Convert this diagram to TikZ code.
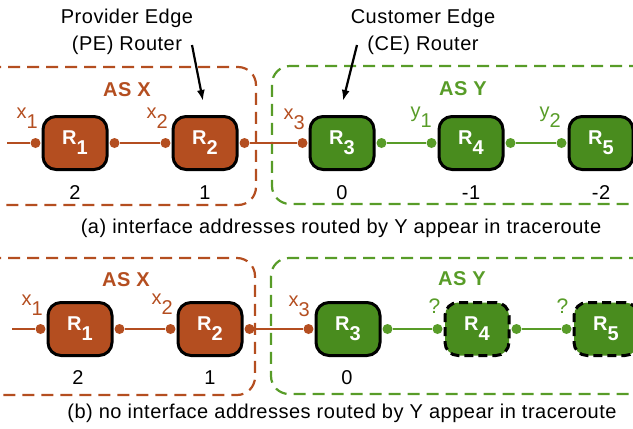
\documentclass[tikz,border=0pt]{standalone}
\usepackage{fontspec}
\setmainfont{Liberation Sans}[LetterSpace=2.5]
\usetikzlibrary{arrows.meta}
\definecolor{asx}{RGB}{180,78,32}
\definecolor{asyfill}{RGB}{73,140,30}
\definecolor{asy}{RGB}{88,156,40}
\newcommand\mysub[1]{\raisebox{-10pt}{#1}}
\begin{document}
\begin{tikzpicture}[x=1pt,y=-1pt,
  router/.style={draw=black, line width=3pt, rounded corners=13pt, minimum width=64pt, minimum height=53pt, inner sep=0pt, text=white, font=\fontsize{20}{20}\selectfont\bfseries},
  xr/.style={router, fill=asx},
  yr/.style={router, fill=asyfill},
  hidden/.style={dash pattern=on 9pt off 5pt},
  dotx/.style={circle, fill=asx, inner sep=0pt, minimum size=10pt},
  doty/.style={circle, fill=asy, inner sep=0pt, minimum size=10pt},
  linkx/.style={draw=asx, line width=2.3pt},
  linky/.style={draw=asy, line width=2.3pt},
  asbox/.style={line width=2.2pt, dash pattern=on 12pt off 7pt, rounded corners=18pt},
  aslabel/.style={font=\fontsize{20}{20}\selectfont\bfseries, anchor=base},
  txt/.style={font=\fontsize{20}{20}\selectfont, anchor=base},
  ifl/.style={font=\fontsize{20}{20}\selectfont, anchor=base west},
  qfl/.style={font=\fontsize{21}{21}\selectfont, anchor=base west},
  callout/.style={-{Latex[length=11pt,width=8pt]}, line width=2.2pt, draw=black},
]
\useasboundingbox (0,0) rectangle (633,429);
\clip (0,0) rectangle (633,429);

% ---------- top panel ----------
\draw[asbox, asx] (-30,67) -- (256,67) -- (256,205) -- (-30,205);
\draw[asbox, asy] (660,66) -- (272,66) -- (272,204) -- (660,204);
\node[aslabel, text=asx] (asxa) at (127,96) {AS X};
\node[aslabel, text=asy] (asya) at (463,95) {AS Y};

\node[txt] (pe1) at (127,23) {Provider Edge};
\node[txt] (pe2) at (127,50) {(PE) Router};
\node[txt] (ce1) at (423,23) {Customer Edge};
\node[txt] (ce2) at (423,50) {(CE) Router};
\coordinate (pet) at (192,45);
\coordinate (peh) at (203,101);
\coordinate (cet) at (357,45);
\coordinate (ceh) at (343,101);
\draw[callout] (pet) -- (peh);
\draw[callout] (cet) -- (ceh);

\node[xr] (a1) at (75,143) {R\mysub{1}};
\node[xr] (a2) at (205,143) {R\mysub{2}};
\node[yr] (a3) at (342,143) {R\mysub{3}};
\node[yr] (a4) at (471,143) {R\mysub{4}};
\node[yr] (a5) at (601,143) {R\mysub{5}};

\coordinate (a0) at (7,143);
\node[dotx] (a1l) at ([xshift=-6pt]a1.west) {};
\node[dotx] (a1r) at ([xshift=6pt]a1.east) {};
\node[dotx] (a2l) at ([xshift=-6pt]a2.west) {};
\node[dotx] (a2r) at ([xshift=6pt]a2.east) {};
\node[dotx] (a3l) at ([xshift=-6pt]a3.west) {};
\node[doty] (a3r) at ([xshift=6pt]a3.east) {};
\node[doty] (a4l) at ([xshift=-6pt]a4.west) {};
\node[doty] (a4r) at ([xshift=6pt]a4.east) {};
\node[doty] (a5l) at ([xshift=-6pt]a5.west) {};
\draw[linkx] (a0) -- (a1l);
\draw[linkx] (a1r) -- (a2l);
\draw[linkx] (a2r) -- (a3l);
\draw[linky] (a3r) -- (a4l);
\draw[linky] (a4r) -- (a5l);

\node[ifl, text=asx] (ax1) at (13,118) {x\mysub{1}};
\node[ifl, text=asx] (ax2) at (143,118) {x\mysub{2}};
\node[ifl, text=asx] (ax3) at (280,119) {x\mysub{3}};
\node[ifl, text=asy] (ay1) at (407,117) {y\mysub{1}};
\node[ifl, text=asy] (ay2) at (536,117) {y\mysub{2}};

\node[txt] (an1) at (75,199) {2};
\node[txt] (an2) at (205,199) {1};
\node[txt] (an3) at (342,199) {0};
\node[txt] (an4) at (471,199) {-1};
\node[txt] (an5) at (601,199) {-2};

\node[txt] (capa) at (341,233) {(a) interface addresses routed by Y appear in traceroute};

% ---------- bottom panel ----------
\draw[asbox, asx] (-30,258) -- (255,258) -- (255,395) -- (-30,395);
\draw[asbox, asy] (660,258) -- (271,258) -- (271,394) -- (660,394);
\node[aslabel, text=asx] (asxb) at (126,286) {AS X};
\node[aslabel, text=asy] (asyb) at (462,285) {AS Y};

\node[xr] (b1) at (80,329) {R\mysub{1}};
\node[xr] (b2) at (210,329) {R\mysub{2}};
\node[yr] (b3) at (348,329) {R\mysub{3}};
\node[yr, hidden] (b4) at (477,329) {R\mysub{4}};
\node[yr, hidden] (b5) at (606,329) {R\mysub{5}};

\coordinate (b0) at (12,329);
\node[dotx] (b1l) at ([xshift=-6pt]b1.west) {};
\node[dotx] (b1r) at ([xshift=6pt]b1.east) {};
\node[dotx] (b2l) at ([xshift=-6pt]b2.west) {};
\node[dotx] (b2r) at ([xshift=6pt]b2.east) {};
\node[dotx] (b3l) at ([xshift=-6pt]b3.west) {};
\node[doty] (b3r) at ([xshift=6pt]b3.east) {};
\node[doty] (b4l) at ([xshift=-6pt]b4.west) {};
\node[doty] (b4r) at ([xshift=6pt]b4.east) {};
\node[doty] (b5l) at ([xshift=-6pt]b5.west) {};
\draw[linkx] (b0) -- (b1l);
\draw[linkx] (b1r) -- (b2l);
\draw[linkx] (b2r) -- (b3l);
\draw[linky] (b3r) -- (b4l);
\draw[linky] (b4r) -- (b5l);

\node[ifl, text=asx] (bx1) at (18,305) {x\mysub{1}};
\node[ifl, text=asx] (bx2) at (148,304) {x\mysub{2}};
\node[ifl, text=asx] (bx3) at (285,306) {x\mysub{3}};
\node[qfl, text=asy] (bq1) at (425,313) {?};
\node[qfl, text=asy] (bq2) at (553,313) {?};

\node[txt] (bn1) at (78,384) {2};
\node[txt] (bn2) at (210,384) {1};
\node[txt] (bn3) at (347,384) {0};

\node[txt] (capb) at (342,418) {(b) no interface addresses routed by Y appear in traceroute};
\end{tikzpicture}
\end{document}
